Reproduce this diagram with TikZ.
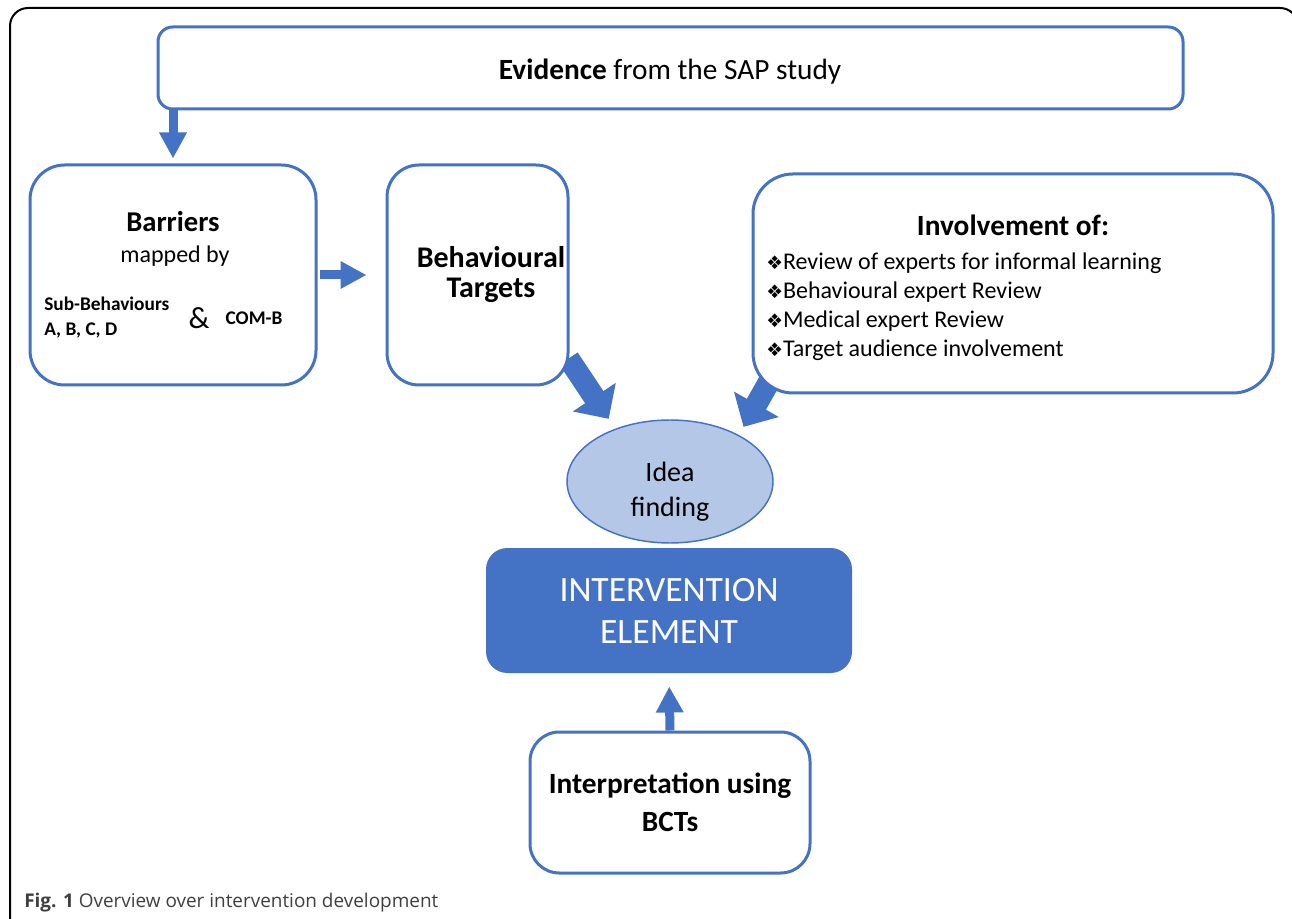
\documentclass[tikz,border=0pt]{standalone}
\usepackage{fontspec}
\setmainfont{Carlito}
\newfontfamily\bulletfont{DejaVu Sans}
\newfontfamily\capfont{Open Sans}
\usetikzlibrary{positioning, arrows.meta, shapes.geometric, calc, backgrounds}
\definecolor{azul}{HTML}{4472C4}
\definecolor{celeste}{HTML}{B4C7E7}
\definecolor{gris}{HTML}{3F3F3F}
\tikzset{
    box/.style={draw=azul, line width=2.25pt, fill=white, rectangle, inner sep=0pt},
    head/.style={font=\bfseries\fontsize{21.5}{25}\selectfont, align=center},
    conn/.style={draw=azul, line width=6.75pt, -{Triangle[length=19.5pt, width=19.5pt]}},
    bigconn/.style={draw=azul, line width=16.5pt, -{Triangle[length=19.5pt, width=37.5pt]}},
}
\newcommand{\bul}{{\bulletfont\fontsize{14}{14}\selectfont ❖}}

\begin{document}
\begin{tikzpicture}[x=0.75pt, y=-0.75pt]
    \clip (0,0) rectangle (1292,919);

    \node[box, rounded corners=11pt, minimum width=768.75pt, minimum height=61.5pt] (ev) at (670.5,68) {};
    \node[font=\fontsize{22}{25}\selectfont] (evT) at (670,72) {\textbf{Evidence} from the SAP study};

    \node[box, rounded corners=26pt, minimum width=214.5pt, minimum height=165pt] (barriers) at (173,275) {};
    \node[head] (barT) at (173,222) {Barriers};
    \node[font=\fontsize{18}{21}\selectfont] (mapT) at (175,256) {mapped by};
    \node[font=\bfseries\fontsize{14.5}{18.75}\selectfont, align=left, anchor=west, inner sep=0pt] (subT) at (44,318) {Sub-Behaviours\\A, B, C, D};
    \node[font=\fontsize{23}{25}\selectfont] (ampT) at (199,318) {\&};
    \node[font=\bfseries\fontsize{14.5}{18}\selectfont] (combT) at (254,318) {COM-B};

    \node[box, rounded corners=24pt, minimum width=135.75pt, minimum height=165pt] (targets) at (477.5,275) {};
    \node[head, font=\bfseries\fontsize{22.5}{22.5}\selectfont] (targetsT) at (491,275) {Behavioural\\Targets};

    \node[box, rounded corners=30pt, minimum width=390pt, minimum height=164.25pt] (inv) at (1013,283.5) {};
    \node[head, font=\bfseries\fontsize{22}{25}\selectfont] (invT) at (1013,225) {Involvement of:};
    \node[font=\fontsize{18}{21.75}\selectfont, align=left, anchor=west, inner sep=0pt] (invL) at (766,307) {\bul Review of experts for informal learning\\\bul Behavioural expert Review\\\bul Medical expert Review\\\bul Target audience involvement};

    \node[box, draw=none, fill=azul, rounded corners=16pt, minimum width=274.5pt, minimum height=93.75pt, text=white, font=\fontsize{26.7}{31.5}\selectfont, align=center] (elem) at (669,610.5) {INTERVENTION\\ELEMENT};
    \node[ellipse, draw=azul, line width=1.1pt, fill=celeste, minimum width=154.5pt, minimum height=92.25pt, inner sep=0pt] (idea) at (670,481.5) {};
    \node[align=center, font=\fontsize{21}{26}\selectfont] (ideaT) at (670,492) {Idea\\finding};

    \node[box, rounded corners=22pt, minimum width=210pt, minimum height=105.75pt, font=\bfseries\fontsize{22}{28.5}\selectfont, align=center] (interp) at (670,802.5) {Interpretation using\\BCTs};

    \node[anchor=west, inner sep=0pt, text=gris, font=\capfont\fontsize{14.2}{16}\selectfont] (cap) at (24,903) {\textbf{Fig. 1} Overview over intervention development};

    \draw[line width=1.5pt, rounded corners=13.5pt] (10,940) -- (10,8) -- (1298,8) -- (1298,940);

    \begin{scope}[on background layer]
        \draw[conn, shorten >=3.75pt] (barriers.north |- ev.south) -- (barriers.north);
        \draw[conn, shorten <=1.5pt, shorten >=14.25pt] (barriers.east) -- (targets.west);
        \draw[conn, shorten >=9pt] (interp.north) -- (elem.south);
        \draw[bigconn, shorten >=8.85pt] ($(targets.south east)+(-1,-28)$) -- (idea.136);
        \draw[bigconn, shorten >=7pt] ($(inv.south west)+(28,-31)$) -- (idea.34);
    \end{scope}
\end{tikzpicture}
\end{document}
